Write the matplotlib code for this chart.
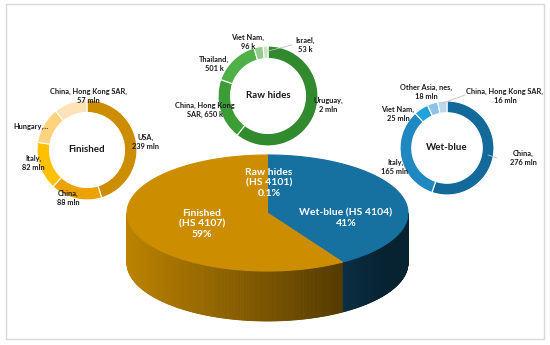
import numpy as np
import matplotlib.pyplot as plt
from matplotlib.patches import Polygon, Rectangle
from matplotlib.colors import to_rgb

W, H = 550, 345

# main 3D pie: share of world exports by product group (%)
main_labels = ['Raw hides\n(HS 4101)\n0.1%', 'Wet-blue (HS 4104)\n41%', 'Finished\n(HS 4107)\n59%']
main_shares = [0.1, 41, 59]
main_colors = ['#3A9A33', '#1670A0', '#CC8E00']

# finished leather, top exporters (mln)
fin_values = [239, 88, 82, 62, 57]
fin_labels = ['USA,\n239 mln', 'China,\n88 mln', 'Italy,\n82 mln', 'Hungary,...',
              'China, Hong Kong SAR,\n57 mln']
fin_colors = ['#CC8E00', '#ECA200', '#FFC000', '#FFD27F', '#FFE3B8']

# raw hides, top exporters (thousands)
raw_values = [2000, 650, 501, 96, 53]
raw_labels = ['Uruguay,\n2 mln', 'China, Hong Kong\nSAR, 650 k', 'Thailand,\n501 k',
              'Viet Nam,\n96 k', 'Israel,\n53 k']
raw_colors = ['#318B2E', '#3C9C35', '#4EB047', '#92CA8B', '#C8E4C3']

# wet-blue, top exporters (mln)
wet_values = [276, 165, 25, 18, 16]
wet_labels = ['China,\n276 mln', 'Italy,\n165 mln', 'Viet Nam,\n25 mln',
              'Other Asia, nes,\n18 mln', 'China, Hong Kong SAR,\n16 mln']
wet_colors = ['#13699A', '#1F88C0', '#22A2DC', '#8EC3E8', '#BCD8EE']

plt.rcParams['font.family'] = ['Lato', 'DejaVu Sans']

fig = plt.figure(figsize=(W / 100, H / 100), dpi=100)
ax = fig.add_axes([0, 0, 1, 1])


def Y(py):
    return H - py


# frame
ax.add_patch(Rectangle((6, Y(339)), 538, 335, fill=False, ec='#D9D9D9', lw=1))

# ---- 3D pie ----
cx, cy, a, b, depth = 267.5, 213, 140.5, 58, 50
bounds = np.concatenate([[0], np.cumsum(main_shares) / np.sum(main_shares) * 360])


def rim(t):
    t = np.radians(t)
    return cx + a * np.sin(t), cy - b * np.cos(t)


# side walls (front half only), shaded with gradient along x
for i in range(len(main_shares)):
    t0, t1 = max(bounds[i], 90), min(bounds[i + 1], 270)
    if t1 <= t0:
        continue
    ts = np.linspace(t0, t1, int((t1 - t0) * 2) + 2)
    base = np.array(to_rgb(main_colors[i]))
    for s, e in zip(ts[:-1], ts[1:]):
        x0, y0 = rim(s)
        x1, y1 = rim(e)
        xm = (x0 + x1) / 2
        f = 0.92 - 0.54 * (xm - (cx - a)) / (355 - (cx - a))
        f = max(f, 0.3)
        ax.add_patch(Polygon([(x0, Y(y0)), (x1, Y(y1)), (x1, Y(y1 + depth)), (x0, Y(y0 + depth))],
                             closed=True, fc=base * f, ec=base * f, lw=0.6))

# top faces
for i in range(len(main_shares)):
    ts = np.linspace(bounds[i], bounds[i + 1], max(int((bounds[i + 1] - bounds[i]) * 2), 2))
    pts = [(cx, Y(cy))] + [(rim(t)[0], Y(rim(t)[1])) for t in ts]
    ax.add_patch(Polygon(pts, closed=True, fc=main_colors[i], ec=main_colors[i], lw=0.8))

main_pos = [(269, 183), (346, 218), (202, 224)]
for lab, (x, y) in zip(main_labels, main_pos):
    ax.text(x, Y(y), lab, ha='center', va='center', color='white', fontsize=7.5,
            fontweight='bold', linespacing=1.25)

# ---- donuts ----
donuts = [
    (fin_values, fin_colors, (87, 150), 50, 'Finished'),
    (raw_values, raw_colors, (268, 96), 50, 'Raw hides'),
    (wet_values, wet_colors, (447, 148), 47, 'Wet-blue'),
]
for vals, cols, (dx, dy), r, title in donuts:
    ax.pie(vals, colors=cols, radius=r, center=(dx, Y(dy)), startangle=90,
           counterclock=False, frame=True,
           wedgeprops=dict(width=r * 0.25, edgecolor='white', linewidth=0.8))
    ax.text(dx, Y(dy), title, ha='center', va='center', fontsize=7, fontweight='bold',
            color='#1A1A1A')

label_pos = {
    'fin': [(146, 142), (68, 198), (33, 163), (31, 126), (88, 96)],
    'raw': [(328, 105), (205, 110), (214, 64), (248, 42), (305, 45)],
    'wet': [(523, 158), (395, 167), (398, 114), (426, 92), (505, 96)],
}
for key, labs in [('fin', fin_labels), ('raw', raw_labels), ('wet', wet_labels)]:
    for lab, (x, y) in zip(labs, label_pos[key]):
        ax.text(x, Y(y), lab, ha='center', va='center', fontsize=5.3, fontweight='bold',
                color='#1A1A1A', linespacing=1.35)

# leader lines
for (x0, y0), (x1, y1) in [((268, 51), (292, 45)), ((443, 103), (465, 95)),
                           ((488, 155), (497, 158))]:
    ax.plot([x0, x1], [Y(y0), Y(y1)], color='#BFBFBF', lw=0.6)

ax.set_xlim(0, W)
ax.set_ylim(0, H)
ax.set_aspect('auto')
ax.axis('off')
fig.savefig('out.png', dpi=100)
